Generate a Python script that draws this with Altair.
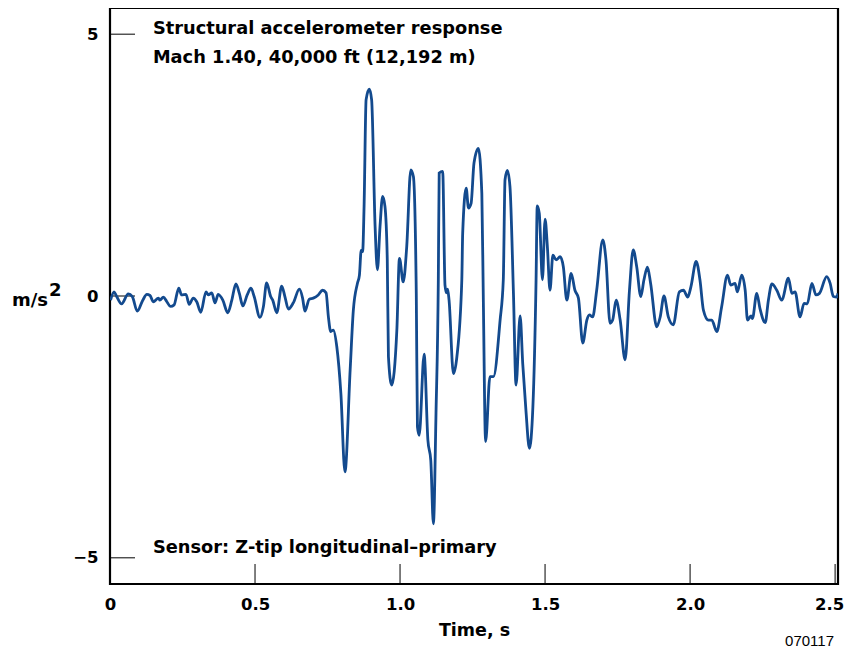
import altair as alt
import pandas as pd

time_s = [0.002, 0.014, 0.023, 0.040, 0.063, 0.077, 0.094, 0.113, 0.127, 0.138,
          0.149, 0.167, 0.172, 0.184, 0.196, 0.209, 0.221, 0.237, 0.247, 0.262,
          0.273, 0.287, 0.299, 0.313, 0.331, 0.339, 0.351, 0.362, 0.373, 0.389,
          0.406, 0.420, 0.434, 0.446, 0.458, 0.473, 0.486, 0.497, 0.517, 0.529,
          0.540, 0.554, 0.561, 0.575, 0.592, 0.603, 0.615, 0.632, 0.653, 0.664,
          0.672, 0.687, 0.701, 0.718, 0.733, 0.745, 0.753, 0.761, 0.770, 0.782,
          0.796, 0.810, 0.828, 0.839, 0.853, 0.860, 0.866, 0.871, 0.876, 0.883,
          0.894, 0.902, 0.914, 0.922, 0.931, 0.940, 0.948, 0.956, 0.960, 0.971,
          0.989, 0.998, 1.011, 1.023, 1.037, 1.046, 1.056, 1.060, 1.066, 1.083,
          1.096, 1.106, 1.115, 1.124, 1.132, 1.135, 1.147, 1.155, 1.160, 1.164,
          1.169, 1.184, 1.196, 1.213, 1.216, 1.228, 1.236, 1.245, 1.255, 1.270,
          1.282, 1.287, 1.295, 1.310, 1.322, 1.345, 1.356, 1.362, 1.370, 1.379,
          1.391, 1.400, 1.414, 1.423, 1.434, 1.446, 1.458, 1.469, 1.473, 1.480,
          1.491, 1.500, 1.508, 1.517, 1.527, 1.538, 1.552, 1.563, 1.575, 1.590,
          1.603, 1.615, 1.630, 1.644, 1.653, 1.664, 1.678, 1.699, 1.710, 1.724,
          1.733, 1.745, 1.759, 1.776, 1.791, 1.804, 1.816, 1.830, 1.841, 1.853,
          1.864, 1.885, 1.897, 1.910, 1.925, 1.942, 1.963, 1.977, 1.992, 2.003,
          2.021, 2.034, 2.046, 2.063, 2.075, 2.092, 2.109, 2.129, 2.140, 2.155,
          2.163, 2.178, 2.190, 2.198, 2.210, 2.215, 2.230, 2.241, 2.259, 2.270,
          2.282, 2.299, 2.316, 2.339, 2.351, 2.362, 2.379, 2.393, 2.404, 2.420,
          2.434, 2.446, 2.471, 2.483, 2.494, 2.506, 2.510]

accel = [-0.08, 0.08, -0.01, -0.15, 0.04, -0.01, -0.29, -0.08, 0.03, 0.01,
         -0.11, -0.04, -0.08, -0.02, -0.11, -0.20, -0.17, 0.15, 0.02, 0.03,
         -0.16, -0.04, -0.11, -0.31, 0.08, 0.02, 0.06, -0.13, 0.03, -0.08,
         -0.32, -0.08, 0.23, 0.05, -0.19, 0.02, 0.15, -0.01, -0.41, -0.20,
         0.25, -0.01, -0.08, -0.32, 0.19, -0.01, -0.25, -0.13, 0.13, -0.04,
         -0.29, -0.06, -0.04, 0.02, 0.11, 0.06, -0.40, -0.68, -0.65, -0.97,
         -1.86, -3.36, -1.41, -0.27, 0.24, 0.40, 0.87, 0.85, 1.71, 3.75,
         3.95, 3.75, 1.33, 0.50, 1.33, 1.90, 1.71, 0.69, -1.16, -1.70,
         -0.65, 0.72, 0.27, 0.94, 2.41, 2.28, 0.05, -2.50, -2.66, -1.11,
         -2.75, -3.14, -4.35, -2.24, 0.31, 2.35, 2.38, 0.21, 0.06, 0.13,
         -0.08, -1.48, -1.16, 0.31, 1.20, 2.06, 1.68, 1.77, 2.54, 2.82,
         1.96, 0.00, -2.78, -1.54, -1.54, -0.46, 0.31, 2.22, 2.40, 2.09,
         0.05, -1.70, -0.38, -1.29, -2.18, -2.91, -2.12, 0.31, 1.72, 1.58,
         0.31, 1.47, 0.94, 0.11, 0.78, 0.69, 0.75, 0.56, -0.08, 0.43,
         0.11, -0.04, -0.90, -0.46, -0.36, -0.40, 0.11, 1.07, 0.69, -0.52,
         -0.46, -0.08, -0.46, -1.22, 0.11, 0.88, 0.56, -0.01, 0.31, 0.55,
         0.24, -0.59, -0.40, 0.00, -0.40, -0.55, 0.08, 0.11, -0.02, 0.18,
         0.66, 0.31, -0.27, -0.46, -0.46, -0.68, -0.20, 0.40, 0.21, 0.24,
         0.08, 0.40, 0.11, -0.46, -0.38, -0.43, 0.05, -0.24, -0.51, -0.08,
         0.23, 0.11, -0.08, 0.34, 0.05, 0.08, -0.40, -0.14, -0.15, 0.24,
         0.02, 0.05, 0.37, 0.24, -0.01, -0.02, 0.05]

x_ticks = [0.0, 0.5, 1.0, 1.5, 2.0, 2.5]
y_ticks = [-5, 0, 5]

note_text = ["Structural accelerometer response", "Mach 1.40, 40,000 ft (12,192 m)",
             "Sensor: Z-tip longitudinal\u2013primary"]
note_t = [0.148, 0.148, 0.148]
note_v = [5.1, 4.55, -4.82]

W, H = 728, 576
FONT = "DejaVu Sans"

df = pd.DataFrame({"t": time_s, "v": accel})
xs = alt.Scale(domain=[0, 2.51], nice=False, zero=False)
ys = alt.Scale(domain=[-5.5, 5.5], nice=False, zero=False)

line = alt.Chart(df).mark_line(color="#134a8e", strokeWidth=2.8,
                               interpolate="monotone", clip=True).encode(
    x=alt.X("t:Q", scale=xs,
            axis=alt.Axis(values=x_ticks, title="Time, s", ticks=False, domain=False,
                          grid=False, labelPadding=12, labelFlush=False,
                          labelOffset={"condition": {"test": "datum.value == 2.5", "value": -6},
                                       "value": 0},
                          labelExpr="datum.value == 0 ? '0' : format(datum.value, '.1f')",
                          labelFont=FONT, labelFontWeight="bold", labelFontSize=16.5,
                          labelColor="black", titleFont=FONT, titleFontWeight="bold",
                          titleFontSize=17.5, titleColor="black", titlePadding=9)),
    y=alt.Y("v:Q", scale=ys,
            axis=alt.Axis(values=y_ticks, title=None, ticks=False, domain=False,
                          grid=False, labelPadding=12, labelFont=FONT,
                          labelFontWeight="bold", labelFontSize=16.5, labelColor="black")),
)

xt = alt.Chart(pd.DataFrame({"t": x_ticks[1:]})).mark_rule(color="black", strokeWidth=1).encode(
    x=alt.X("t:Q", scale=xs), y=alt.value(H), y2=alt.value(H - 20))
yt = alt.Chart(pd.DataFrame({"v": y_ticks})).mark_rule(color="black", strokeWidth=1).encode(
    y=alt.Y("v:Q", scale=ys), x=alt.value(0), x2=alt.value(25))

notes = alt.Chart(pd.DataFrame({"t": note_t, "v": note_v, "s": note_text})).mark_text(
    align="left", baseline="middle", font=FONT, fontWeight="bold", fontSize=17.8,
    color="black").encode(x=alt.X("t:Q", scale=xs), y=alt.Y("v:Q", scale=ys), text="s:N")

unit = alt.Chart(pd.DataFrame({"s": ["m/s"]})).mark_text(
    align="left", baseline="alphabetic", font=FONT, fontWeight="bold", fontSize=18,
    color="black").encode(x=alt.value(-98), y=alt.value(H / 2 + 10), text="s:N")
unit_exp = alt.Chart(pd.DataFrame({"s": ["2"]})).mark_text(
    align="left", baseline="alphabetic", font=FONT, fontWeight="bold", fontSize=18,
    color="black").encode(x=alt.value(-61), y=alt.value(H / 2), text="s:N")

code = alt.Chart(pd.DataFrame({"s": ["070117"]})).mark_text(
    align="right", baseline="alphabetic", font="Liberation Sans", fontSize=15,
    color="black").encode(x=alt.value(W - 4), y=alt.value(H + 62), text="s:N")

chart = alt.layer(yt, xt, line, notes, unit, unit_exp, code).properties(
    width=W, height=H,
    autosize=alt.AutoSizeParams(type="none"),
    padding={"left": 102, "top": 0, "right": 6, "bottom": 64},
).configure_view(stroke="black", strokeWidth=2.2)

chart.save("out.html", embed_options={"renderer": "svg", "actions": False})
